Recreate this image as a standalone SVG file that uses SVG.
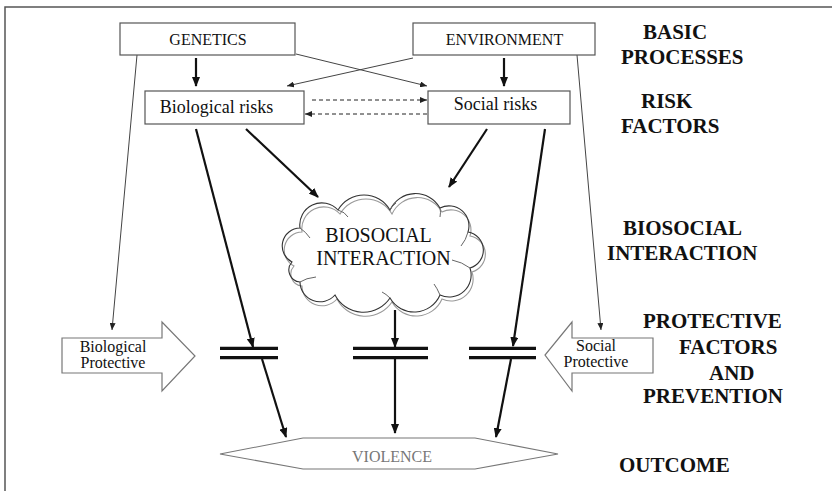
<svg xmlns="http://www.w3.org/2000/svg" width="832" height="491" viewBox="0 0 832 491">
<style>
.box{fill:#fff;stroke:#555;stroke-width:1.2}
.t{font-family:"Liberation Serif","Times New Roman",serif;fill:#111}
.lbl{font-family:"Liberation Serif","Times New Roman",serif;font-weight:bold;font-size:21px;fill:#111}
.thick{stroke:#111;stroke-width:2.2;fill:none;marker-end:url(#ah)}
.thin{stroke:#444;stroke-width:1;fill:none;marker-end:url(#ahs)}
.dash{stroke:#222;stroke-width:1;fill:none;stroke-dasharray:4 3;marker-end:url(#ahs)}
.bar{stroke:#111;stroke-width:3.2}
.parrow{fill:#fff;stroke:#777;stroke-width:1.2}
</style>
<defs>
<marker id="ah" markerUnits="userSpaceOnUse" markerWidth="10" markerHeight="8" refX="9" refY="4" orient="auto">
<path d="M0,0 L10,4 L0,8 Z" fill="#111"/>
</marker>
<marker id="ahs" markerUnits="userSpaceOnUse" markerWidth="7" markerHeight="6" refX="7" refY="3" orient="auto">
<path d="M0,0 L7,3 L0,6 Z" fill="#222"/>
</marker>
</defs>
<rect width="832" height="491" fill="#fff"/>
<g id="frame" stroke="#555" stroke-width="1.5" fill="none">
<path d="M5,491 L5,7 L832,7"/>
</g>

<g id="connectors">
<line class="thick" x1="196" y1="58" x2="196" y2="86"/>
<line class="thick" x1="504" y1="58" x2="504" y2="86"/>
<line class="thin" x1="296" y1="54" x2="427" y2="86"/>
<line class="thin" x1="413" y1="58" x2="287" y2="86"/>
<line class="dash" x1="312" y1="100" x2="427" y2="100"/>
<line class="dash" x1="427" y1="114" x2="305" y2="114"/>
<line class="thin" x1="137" y1="55" x2="112" y2="330"/>
<line class="thin" x1="577" y1="55" x2="601" y2="330"/>
<line class="thick" x1="196" y1="129" x2="253" y2="347"/>
<line class="thick" x1="262" y1="359" x2="286" y2="437"/>
<line class="thick" x1="246" y1="129" x2="318" y2="197"/>
<line class="thick" x1="487" y1="129" x2="449" y2="187"/>
<line class="thick" x1="545" y1="129" x2="513" y2="346"/>
<line class="thick" x1="511" y1="359" x2="496" y2="437"/>
<line class="thick" x1="395" y1="310" x2="395" y2="347"/>
<line class="thick" x1="395" y1="359" x2="395" y2="433"/>
</g>

<g id="genetics">
<rect class="box" x="120" y="23" width="175" height="32"/>
<text class="t" x="208" y="45" font-size="16" text-anchor="middle">GENETICS</text>
</g>
<g id="environment">
<rect class="box" x="413" y="23" width="182" height="32"/>
<text class="t" x="504.5" y="45" font-size="16" text-anchor="middle">ENVIRONMENT</text>
</g>
<g id="biological-risks">
<rect class="box" x="145" y="91" width="159" height="33"/>
<text class="t" x="216.5" y="113" font-size="18" text-anchor="middle">Biological risks</text>
</g>
<g id="social-risks">
<rect class="box" x="428" y="91" width="142" height="33"/>
<text class="t" x="495.5" y="110" font-size="18" text-anchor="middle">Social risks</text>
</g>

<g id="biosocial-interaction">
<path transform="translate(2,4)" fill="none" stroke="#999" stroke-width="1.1" d="M292,262 A18,18 0 0 1 300,228 A22,22 0 0 1 338,210 A30,30 0 0 1 390,210 A28,28 0 0 1 440,208 A20,20 0 0 1 468,232 A18.5,18.5 0 0 1 470,268 A22,22 0 0 1 440,295 A28,28 0 0 1 390,298 A32,32 0 0 1 335,295 A20,20 0 0 1 300,282 A12,12 0 0 1 292,262 Z"/>
<path fill="none" stroke="#333" stroke-width="1.1" d="M292,262 A18,18 0 0 1 300,228 A22,22 0 0 1 338,210 A30,30 0 0 1 390,210 A28,28 0 0 1 440,208 A20,20 0 0 1 468,232 A18.5,18.5 0 0 1 470,268 A22,22 0 0 1 440,295 A28,28 0 0 1 390,298 A32,32 0 0 1 335,295 A20,20 0 0 1 300,282 A12,12 0 0 1 292,262 Z"/>
<g fill="none" stroke="#666" stroke-width="1">
<path d="M300,228 Q306,232 310,238"/>
<path d="M338,210 Q345,212 348,217"/>
<path d="M390,210 Q392,206 396,203"/>
<path d="M440,208 Q441,212 440,217"/>
<path d="M468,232 Q466,240 461,246"/>
<path d="M470,268 Q462,262 452,260"/>
<path d="M440,295 Q437,288 434,284"/>
<path d="M390,298 Q386,294 382,292"/>
<path d="M300,282 Q306,278 316,277"/>
</g>
<text class="t" x="378.5" y="242" font-size="20" text-anchor="middle">BIOSOCIAL</text>
<text class="t" x="383.5" y="265" font-size="20" text-anchor="middle">INTERACTION</text>
</g>

<g id="bars">
<line class="bar" x1="220" y1="348.3" x2="278" y2="348.3"/>
<line class="bar" x1="220" y1="357.7" x2="278" y2="357.7"/>
<line class="bar" x1="353" y1="348.3" x2="428" y2="348.3"/>
<line class="bar" x1="353" y1="357.7" x2="428" y2="357.7"/>
<line class="bar" x1="469" y1="348.3" x2="536" y2="348.3"/>
<line class="bar" x1="469" y1="357.7" x2="536" y2="357.7"/>
</g>

<g id="biological-protective">
<polygon class="parrow" points="62,338 162,338 162,322 195,356 162,391 162,373 62,373"/>
<text class="t" x="113" y="352" font-size="16" text-anchor="middle">Biological</text>
<text class="t" x="113" y="368" font-size="16" text-anchor="middle">Protective</text>
</g>
<g id="social-protective">
<polygon class="parrow" points="653,338 572,338 572,322 545,355 572,391 572,373 653,373"/>
<text class="t" x="596" y="351" font-size="16" text-anchor="middle">Social</text>
<text class="t" x="596" y="367" font-size="16" text-anchor="middle">Protective</text>
</g>

<g id="violence">
<polygon fill="#fff" stroke="#777" stroke-width="1.1" points="220,454 303,438 475,438 558,454 475,469 303,469"/>
<text x="392" y="462" font-size="16" text-anchor="middle" font-family="Liberation Serif, serif" fill="#777">VIOLENCE</text>
</g>

<g id="level-labels">
<text class="lbl" x="643" y="39">BASIC</text>
<text class="lbl" x="621" y="64">PROCESSES</text>
<text class="lbl" x="641" y="108">RISK</text>
<text class="lbl" x="621" y="133">FACTORS</text>
<text class="lbl" x="623" y="235">BIOSOCIAL</text>
<text class="lbl" x="607" y="260">INTERACTION</text>
<text class="lbl" x="643" y="328">PROTECTIVE</text>
<text class="lbl" x="679" y="354">FACTORS</text>
<text class="lbl" x="709" y="380">AND</text>
<text class="lbl" x="643" y="403">PREVENTION</text>
<text class="lbl" x="619" y="472">OUTCOME</text>
</g>
</svg>
